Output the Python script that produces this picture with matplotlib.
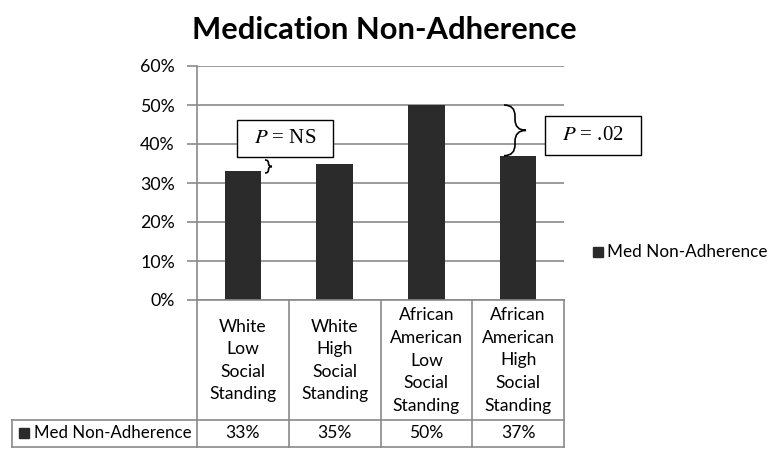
import numpy as np
import matplotlib
matplotlib.use("Agg")
from matplotlib import pyplot as plt
from matplotlib.path import Path
from matplotlib.patches import PathPatch, Rectangle

categories = ["White\nLow\nSocial\nStanding",
              "White\nHigh\nSocial\nStanding",
              "African\nAmerican\nLow\nSocial\nStanding",
              "African\nAmerican\nHigh\nSocial\nStanding"]
values = [0.33, 0.35, 0.50, 0.37]
series_name = "Med Non-Adherence"
yticks = [0, 0.1, 0.2, 0.3, 0.4, 0.5, 0.6]

W, H = 771, 450
plt.rcParams['font.family'] = ['Lato', 'DejaVu Sans']

fig = plt.figure(figsize=(W / 100, H / 100), dpi=100)


def fx(x):
    return x / W


def fy(y):
    return 1 - y / H


ax_l, ax_r, ax_t, ax_b = 197, 564, 66, 300
ax = fig.add_axes([fx(ax_l), fy(ax_b), fx(ax_r - ax_l), (ax_b - ax_t) / H])

x = np.arange(len(values))
ax.bar(x, values, width=0.4, color="#2b2b2b", zorder=3)
ax.set_xlim(-0.5, len(values) - 0.5)
ax.set_ylim(0, 0.6)
ax.set_yticks(yticks)
ax.set_yticklabels([f"{int(round(v * 100))}%" for v in yticks], fontsize=12.8)
ax.set_xticks([])
ax.grid(axis="y", color="#8a8a8a", linewidth=1.2, zorder=0)
for s in ["top", "right", "bottom"]:
    ax.spines[s].set_visible(False)
ax.spines["left"].set_color("#8a8a8a")
ax.spines["left"].set_linewidth(1.2)
ax.tick_params(axis="y", length=7, width=1.2, color="#8a8a8a", pad=9)

fig.text(fx(384), fy(30), "Medication Non-Adherence", ha="center", va="center",
         fontsize=22.2, fontweight="bold")

# data table under the axis
tc = "#8a8a8a"
row1_b, row2_b = 420, 447
col_edges = [ax_l + (ax_r - ax_l) * i / len(values) for i in range(len(values) + 1)]


def hline(x0, x1, y):
    fig.add_artist(plt.Line2D([fx(x0), fx(x1)], [fy(y), fy(y)], color=tc, lw=1.2))


def vline(x, y0, y1):
    fig.add_artist(plt.Line2D([fx(x), fx(x)], [fy(y0), fy(y1)], color=tc, lw=1.2))


hline(ax_l, ax_r, ax_b)
hline(12, ax_r, row1_b)
hline(12, ax_r, row2_b)
vline(12, row1_b, row2_b)
for i, ce in enumerate(col_edges):
    vline(ce, ax_b, row2_b)

for i, (cat, v) in enumerate(zip(categories, values)):
    cx = (col_edges[i] + col_edges[i + 1]) / 2
    fig.text(fx(cx), fy((ax_b + row1_b) / 2 + 0.5), cat, ha="center", va="center",
             fontsize=12.6, linespacing=1.5)
    fig.text(fx(cx), fy((row1_b + row2_b) / 2), f"{int(round(v * 100))}%",
             ha="center", va="center", fontsize=12.6)

fig.add_artist(Rectangle((fx(19), fy(438)), fx(10), 10 / H, color="#2b2b2b"))
fig.text(fx(34), fy((row1_b + row2_b) / 2), series_name, ha="left", va="center",
         fontsize=12.2)

# legend
fig.add_artist(Rectangle((fx(593), fy(257)), fx(10), 10 / H, color="#2b2b2b"))
fig.text(fx(607), fy(252), series_name, ha="left", va="center", fontsize=12.3)


def brace(x0, yt, yb, h):
    ym = (yt + yb) / 2
    r = min(h, (yb - yt) / 4)
    pts = [(x0, yt), (x0 + h, yt), (x0 + h, yt + r),
           (x0 + h, ym - r), (x0 + h, ym), (x0 + 2 * h, ym),
           (x0 + h, ym), (x0 + h, ym + r),
           (x0 + h, yb - r), (x0 + h, yb), (x0, yb)]
    codes = [Path.MOVETO, Path.CURVE3, Path.CURVE3,
             Path.LINETO, Path.CURVE3, Path.CURVE3,
             Path.CURVE3, Path.CURVE3,
             Path.LINETO, Path.CURVE3, Path.CURVE3]
    p = Path([(fx(a), fy(b)) for a, b in pts], codes)
    fig.add_artist(PathPatch(p, fill=False, lw=1.2, color="black",
                             transform=fig.transFigure))


def pbox(x0, y0, x1, y1, rest):
    fig.add_artist(Rectangle((fx(x0), fy(y1)), fx(x1 - x0), (y1 - y0) / H,
                             facecolor="white", edgecolor="black", lw=1.0))
    fig.text(fx((x0 + x1) / 2), fy((y0 + y1) / 2),
             r"$\it{P}$" + rest, ha="center", va="center", fontsize=15,
             family="Liberation Serif", math_fontfamily="stix")


pbox(237, 120, 333, 157, " = NS")
pbox(545, 116, 641, 155, " = .02")
brace(265, 160, 173, 3.5)
# brace spanning the two African American bars
y50 = ax_b - (ax_b - ax_t) * values[2] / 0.6
y37 = ax_b - (ax_b - ax_t) * values[3] / 0.6
brace(504, y50, y37, 11)

fig.savefig("out.png", dpi=100)
